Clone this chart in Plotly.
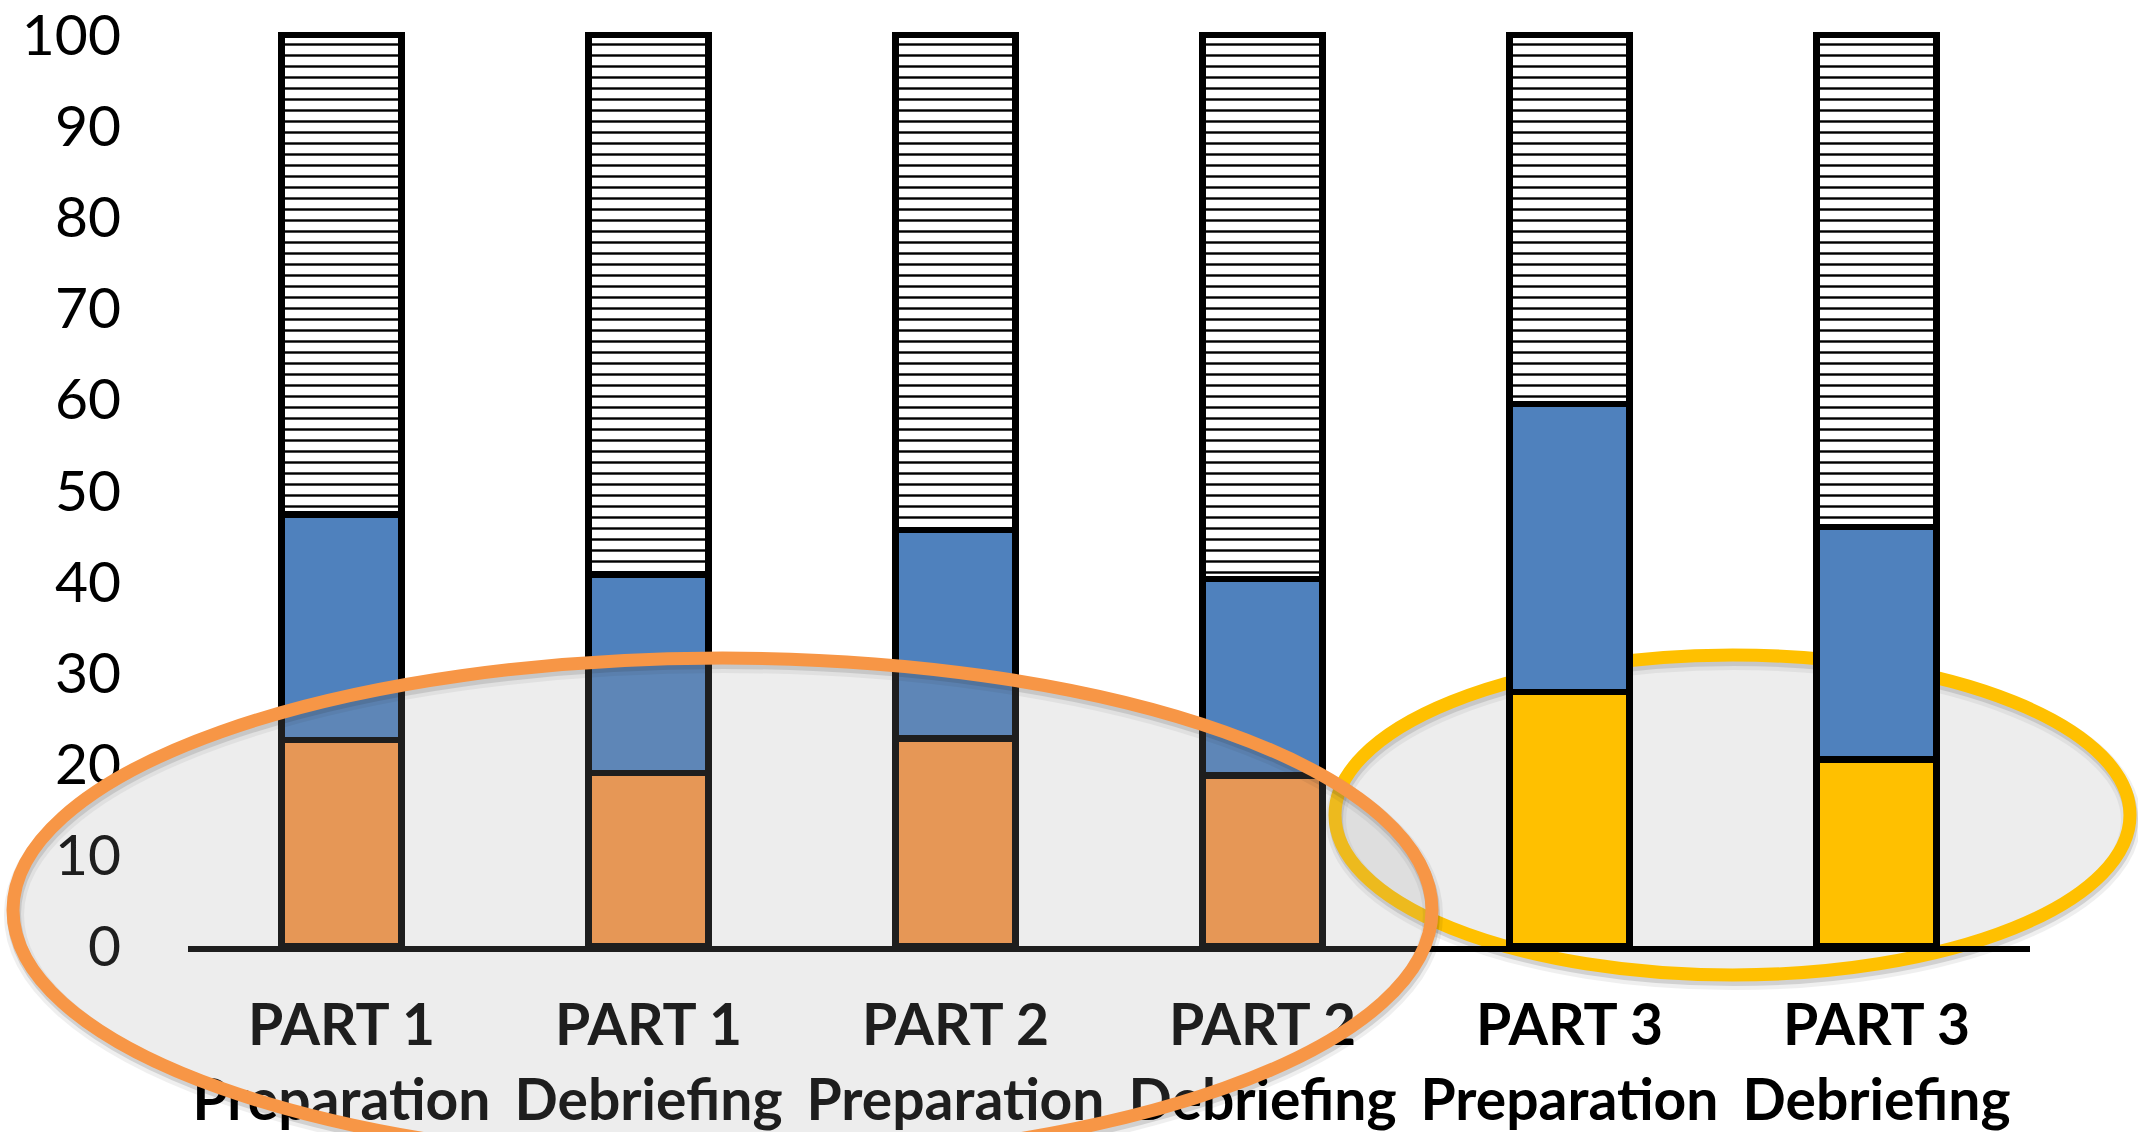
import plotly.graph_objects as go

# ---- data ----
categories = ["PART 1<br>Preparation", "PART 1<br>Debriefing",
              "PART 2<br>Preparation", "PART 2<br>Debriefing",
              "PART 3<br>Preparation", "PART 3<br>Debriefing"]
bottom_values = [22.6, 19.0, 22.8, 18.7, 27.9, 20.5]
middle_values = [24.8, 21.8, 22.9, 21.6, 31.6, 25.5]
top_values = [52.6, 59.2, 54.3, 59.7, 40.5, 54.0]
bottom_colors = ["#F79646", "#F79646", "#F79646", "#F79646", "#FFC000", "#FFC000"]
y_ticks = [0, 10, 20, 30, 40, 50, 60, 70, 80, 90, 100]

W, H = 2138, 1132
ML, MR, MT, MB = 188, 108, 17, 186
PW, PH = W - ML - MR, H - MT - MB


def px_x(p):
    return (p - ML) / PW


def px_y(p):
    return (H - MB - p) / PH


BAR_W = 0.39
LINE = dict(color="black", width=6.5)

fig = go.Figure()
fig.add_bar(x=categories, y=bottom_values, width=BAR_W,
            marker=dict(color=bottom_colors, line=LINE), showlegend=False)
fig.add_bar(x=categories, y=middle_values, width=BAR_W,
            marker=dict(color="#4F81BD", line=LINE), showlegend=False)
fig.add_bar(x=categories, y=top_values, width=BAR_W,
            marker=dict(color="white", line=LINE,
                        pattern=dict(shape="-", size=11, solidity=0.22,
                                     fgcolor="black", bgcolor="white",
                                     fillmode="replace")),
            showlegend=False)

shapes = []


def ellipse(x0, x1, y0, y1, color, layer):
    # soft shadow
    for off, w, op in [(5, 20, 0.06), (4, 14, 0.12)]:
        shapes.append(dict(type="circle", xref="paper", yref="paper",
                           x0=px_x(x0 + 1), x1=px_x(x1 + 1),
                           y0=px_y(y1 + off), y1=px_y(y0 + off),
                           line=dict(color="black", width=w),
                           opacity=op, layer=layer))
    shapes.append(dict(type="circle", xref="paper", yref="paper",
                       x0=px_x(x0), x1=px_x(x1), y0=px_y(y1), y1=px_y(y0),
                       fillcolor="rgba(162,162,162,0.19)",
                       line=dict(color=color, width=13), layer=layer))


# yellow ellipse (behind the bars)
ellipse(1335, 2130, 655, 975, "#FFC000", "below")
# orange ellipse (over the bars and labels)
ellipse(13, 1432, 658, 1162, "#F79646", "above")

fig.update_layout(
    barmode="stack",
    width=W, height=H,
    margin=dict(l=ML, r=MR, t=MT, b=MB, pad=0, autoexpand=False),
    paper_bgcolor="white", plot_bgcolor="rgba(0,0,0,0)",
    shapes=shapes,
    font=dict(family="Lato", color="black"),
)
fig.update_xaxes(range=[-0.5, 5.5], showline=True, linecolor="black",
                 linewidth=6, ticks="", showgrid=False, zeroline=False,
                 automargin=False, ticklabeloverflow="allow",
                 tickfont=dict(family="Lato", size=57, weight="bold",
                               color="black"),
                 ticklabelstandoff=25)
fig.update_yaxes(range=[0, 102], tickvals=y_ticks, ticks="", showgrid=False,
                 zeroline=False, showline=False,
                 automargin=False, ticklabeloverflow="allow",
                 tickfont=dict(family="Lato", size=57, color="black"),
                 ticklabelstandoff=66)

fig.write_html("out.html",
               config={"displayModeBar": False},
               post_script="document.body.style.margin='0';"
                           "document.body.style.overflow='hidden';")
